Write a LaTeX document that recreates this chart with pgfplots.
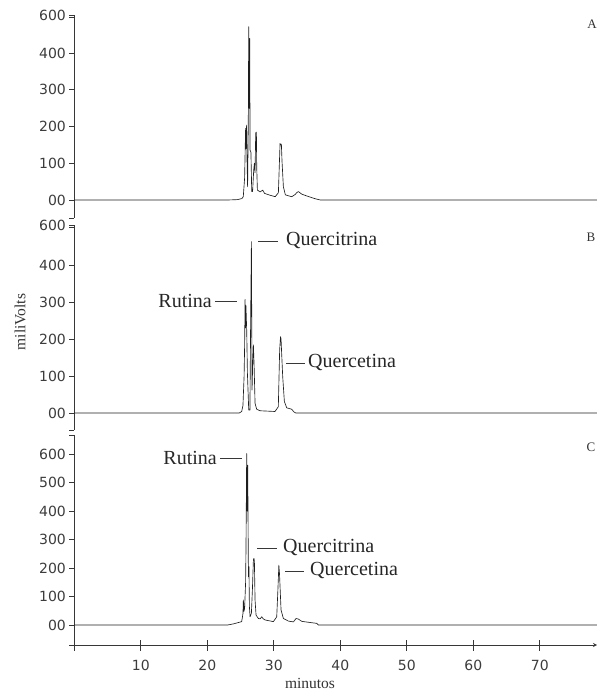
\documentclass[border=0pt]{standalone}
\usepackage{fontspec}
\setmainfont{Liberation Serif}
\newfontfamily\tickfont{DejaVu Sans}
\usepackage{pgfplots}
\usepackage{pgfplotstable}
\pgfplotsset{compat=1.18}

\pgfplotstableread{
t v
0 0
23.0 0
24.5 1
25.2 4
25.4 9
25.6 60
25.75 195
25.8 140
25.9 204
25.95 120
26.05 36
26.15 200
26.22 472
26.3 250
26.37 440
26.42 136
26.55 130
26.67 23
26.8 23
26.97 82
27.07 100
27.17 74
27.27 183
27.37 185
27.42 91
27.52 27
27.7 25
27.92 22
28.1 24
28.32 27
28.6 18
29.43 13
30.2 9
30.68 20
30.93 154
31.05 150
31.13 152
31.23 104
31.43 36
31.73 14
32.69 9
33.2 15
33.44 20
33.7 23
34.19 16
34.8 12
35.44 8
36.3 3
37.0 0
78.6 0
}\dataA

\pgfplotstableread{
t v
0 0
24.8 0
25.16 4
25.35 20
25.52 98
25.6 180
25.67 307
25.75 230
25.8 290
25.92 220
26.02 108
26.22 8
26.4 8
26.52 278
26.62 463
26.72 62
26.82 134
26.92 184
27.02 134
27.17 26
27.42 10
27.92 6
30.17 4
30.67 17
30.87 170
31.0 206
31.08 200
31.15 170
31.33 98
31.58 31
31.93 14
32.69 10
33.0 3
33.3 0
78.6 0
}\dataB

\pgfplotstableread{
t v
0 0
23.0 0
23.9 4
25.16 12
25.35 40
25.41 88
25.5 48
25.6 58
25.75 150
25.81 275
25.91 602
26.0 400
26.07 561
26.17 170
26.25 205
26.32 64
26.42 29
26.62 41
26.77 123
26.92 228
27.0 234
27.07 225
27.17 88
27.32 35
27.67 23
27.95 22
28.17 29
28.4 22
28.67 18
29.93 12
30.43 29
30.6 120
30.75 210
30.85 180
30.93 134
31.08 53
31.43 23
32.18 14
32.94 11
33.34 23
33.69 21
34.19 13
35.44 9
36.45 6
36.7 0
78.6 0
}\dataC

\definecolor{trace}{RGB}{30,30,30}
\definecolor{axiscol}{RGB}{55,55,55}
\definecolor{ticktext}{RGB}{60,60,60}

\pgfplotsset{chrom/.style={
  scale only axis, width=522.6pt, xmin=0, xmax=78.6,
  anchor=south west,
  axis y line=left,
  axis line style={-, draw=axiscol, line width=0.8pt},
  tick align=outside, major tick length=5pt,
  tick style={draw=axiscol, line width=0.8pt},
  tick label style={font=\fontsize{14}{14}\selectfont\tickfont, text=ticktext},
  /pgf/number format/assume math mode=true,
},
traceline/.style={draw=trace, line width=0.65pt, line join=round, mark=none}}

\begin{document}
\begin{tikzpicture}
% Panel A
\begin{axis}[chrom, at={(74.4pt,473pt)}, height=203pt,
  axis x line=none, ymin=-49, ymax=504,
  ytick={0,100,200,300,400,504},
  yticklabels={00,100,200,300,400,600},
  extra y ticks={-49,497}, extra y tick labels={,}]
\addplot[traceline] table[x=t,y=v] {\dataA};
\end{axis}
% Panel B
\begin{axis}[chrom, at={(74.4pt,261pt)}, height=205pt,
  axis x line=none, ymin=-46, ymax=508,
  ytick={0,100,200,300,400,508},
  yticklabels={00,100,200,300,400,600},
  extra y ticks={-46,501}, extra y tick labels={,}]
\addplot[traceline] table[x=t,y=v] {\dataB};
\end{axis}
% Panel C
\begin{axis}[chrom, at={(74.4pt,46pt)}, height=210pt,
  axis x line=none, ymin=-70, ymax=667,
  ytick={0,100,200,300,400,500,600},
  yticklabels={00,100,200,300,400,500,600},
  extra y ticks={-70,667}, extra y tick labels={,}]
\addplot[traceline] table[x=t,y=v] {\dataC};
\end{axis}
% Panel C x axis
\begin{axis}[chrom, at={(74.4pt,46pt)}, height=210pt,
  axis y line=none, axis x line=bottom, ymin=-70, ymax=667,
  major tick length=11pt,
  xtick={10,20,30,40,50,60,70},
  extra x ticks={0}, extra x tick labels={},
  xticklabel style={yshift=-6pt}]
\end{axis}

% Annotations
\begin{scope}[x=1pt,y=1pt, every node/.style={inner sep=0pt, font=\fontsize{20}{20}\selectfont, text=black!85}]
  \draw[axiscol, line width=0.7pt] (215,390) -- (237,390);
  \node[anchor=east] at (212,390) {Rutina};
  \draw[axiscol, line width=0.7pt] (258,450) -- (278,450);
  \node[anchor=west] at (286,450) {Quercitrina};
  \draw[axiscol, line width=0.7pt] (286,328) -- (305,328);
  \node[anchor=west] at (308,328) {Quercetina};
  \draw[axiscol, line width=0.7pt] (220,233) -- (242,233);
  \node[anchor=east] at (217,233) {Rutina};
  \draw[axiscol, line width=0.7pt] (257,143) -- (277,143);
  \node[anchor=west] at (283,143) {Quercitrina};
  \draw[axiscol, line width=0.7pt] (285,120) -- (304,120);
  \node[anchor=west] at (310,120) {Quercetina};
\end{scope}
\begin{scope}[x=1pt,y=1pt, every node/.style={inner sep=0pt, text=black!80}]
  \node[font=\fontsize{13}{13}\selectfont] at (592,667) {A};
  \node[font=\fontsize{13}{13}\selectfont] at (591,454) {B};
  \node[font=\fontsize{13}{13}\selectfont] at (591,244) {C};
  \node[font=\fontsize{15.5}{15.5}\selectfont, rotate=90] at (20,369) {miliVolts};
  \node[font=\fontsize{15.5}{15.5}\selectfont, anchor=base] at (310,2.5) {minutos};
\end{scope}
\pgfresetboundingbox
\path[use as bounding box] (0pt,0pt) rectangle (597pt,691pt);
\end{tikzpicture}
\end{document}
